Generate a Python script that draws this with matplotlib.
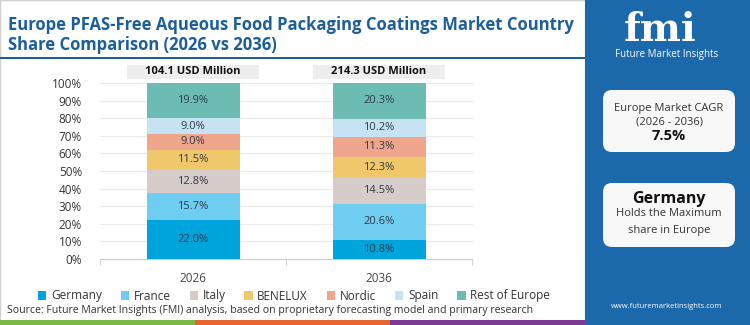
import matplotlib.pyplot as plt
from matplotlib.patches import Rectangle, FancyBboxPatch
import numpy as np

plt.rcParams['font.family'] = ['Open Sans', 'DejaVu Sans']

# === DATA ===
years = ['2026', '2036']
market_size = ['104.1 USD Million', '214.3 USD Million']
countries = ['Germany', 'France', 'Italy', 'BENELUX', 'Nordic', 'Spain', 'Rest of Europe']
share_2026 = [22.0, 15.7, 12.8, 11.5, 9.0, 9.0, 19.9]
share_2036 = [10.8, 20.6, 14.5, 12.3, 11.3, 10.2, 20.3]
colors = ['#00a4dc', '#6fcdf2', '#d6ccc9', '#efc86c', '#f0a58d', '#c6e3f3', '#6dbcb4']
cagr = '7.5%'
top_country = 'Germany'

W, H = 750, 325
panel_blue = '#1b68ab'
title_blue = '#1c5f98'


def fx(x):
    return x / W


def fy(y):
    return 1 - y / H


fig = plt.figure(figsize=(7.5, 3.25), dpi=100)
fig.patch.set_facecolor('white')

# === FRAME / DECOR ===
fig.add_artist(Rectangle((fx(0), fy(H)), fx(585), 1, transform=fig.transFigure,
                         facecolor='none', edgecolor='#d0d0d0', lw=1))
fig.add_artist(Rectangle((fx(0), fy(59)), fx(585), 2 / H, transform=fig.transFigure,
                         facecolor=title_blue, edgecolor='none'))
fig.add_artist(Rectangle((fx(585), 0), 1 - fx(585), 1, transform=fig.transFigure,
                         facecolor=panel_blue, edgecolor='none'))
for x0, c in [(0, '#7bb84a'), (195, '#e5642f'), (390, '#7d3a95')]:
    fig.add_artist(Rectangle((fx(x0), 0), fx(195), 5 / H, transform=fig.transFigure,
                             facecolor=c, edgecolor='none'))

fig.text(fx(8), fy(25), 'Europe PFAS-Free Aqueous Food Packaging Coatings Market Country',
         fontsize=12.0, fontweight='bold', color=title_blue, va='center', ha='left')
fig.text(fx(8), fy(45), 'Share Comparison (2026 vs 2036)',
         fontsize=12.0, fontweight='bold', color=title_blue, va='center', ha='left')

# === STACKED BARS ===
ax = fig.add_axes([fx(100), fy(259), fx(372), 176 / H])
x = np.arange(len(years))
data = np.array([share_2026, share_2036])
bottoms = np.zeros(len(years))
for i, name in enumerate(countries):
    vals = data[:, i]
    ax.bar(x, vals, bottom=bottoms, width=0.5, color=colors[i], label=name, zorder=3)
    for xi, v, b in zip(x, vals, bottoms):
        ax.text(xi, b + v / 2, f'{v:.1f}%', ha='center', va='center',
                fontsize=8, color='#2e3a46', zorder=4)
    bottoms += vals

for xi, lbl in zip(x, market_size):
    ax.add_patch(Rectangle((xi - 0.355, 102.3), 0.71, 8, facecolor='#eeeeee',
                           edgecolor='none', clip_on=False))
    ax.text(xi, 106.3, lbl, ha='center', va='center', fontsize=8,
            fontweight='bold', color='#111111')

ax.set_xlim(-0.5, 1.5)
ax.set_ylim(0, 100)
ax.set_yticks(np.arange(0, 101, 10))
ax.set_yticklabels([f'{t}%' for t in range(0, 101, 10)])
ax.grid(axis='y', color='#ebebeb', lw=0.8, zorder=0, clip_on=False)
ax.set_xticks(x)
ax.set_xticklabels(years)
ax.set_xticks([-0.5, 0.5, 1.5], minor=True)
ax.tick_params(axis='x', which='major', length=0, pad=9, labelsize=8.5, labelcolor='#444444')
ax.tick_params(axis='x', which='minor', length=4, color='#cccccc')
ax.tick_params(axis='y', length=0, pad=13, labelsize=8.5, labelcolor='#333333')
for s in ['top', 'right', 'left']:
    ax.spines[s].set_visible(False)
ax.spines['bottom'].set_color('#cccccc')

fig.legend(loc='center', bbox_to_anchor=(fx(294), fy(296)), ncol=7, frameon=False,
           fontsize=8.5, handlelength=0.7, handleheight=0.7, handletextpad=0.4,
           columnspacing=1.6, labelcolor='#333333')

fig.text(fx(7), fy(311), 'Source: Future Market Insights (FMI) analysis, based on proprietary '
         'forecasting model and primary research', fontsize=7.6, color='#333333',
         va='center', ha='left')

# === SIDE PANEL ===
fig.text(fx(660), fy(41), 'fmi', fontsize=28, fontweight='bold', color='white',
         ha='center', va='baseline', family='DejaVu Serif')
for yy in range(12, 42, 4):
    fig.add_artist(Rectangle((fx(625), fy(yy)), fx(72), 1.2 / H, transform=fig.transFigure,
                             facecolor=panel_blue, edgecolor='none'))
fig.text(fx(667), fy(54), 'Future Market Insights', fontsize=7, color='white',
         ha='center', va='center')

for y0, y1 in [(90, 152), (183, 247)]:
    fig.add_artist(FancyBboxPatch((fx(603), fy(y1)), fx(132), (y1 - y0) / H,
                                  boxstyle='round,pad=0,rounding_size=0.012',
                                  transform=fig.transFigure, facecolor='#f8f8f8',
                                  edgecolor='none', mutation_aspect=W / H))

fig.text(fx(669), fy(108), 'Europe Market CAGR', fontsize=8, color='#333333',
         ha='center', va='center')
fig.text(fx(669), fy(122), '(2026 - 2036)', fontsize=8, color='#333333',
         ha='center', va='center')
fig.text(fx(669), fy(136), cagr, fontsize=10.5, fontweight='bold', color='#111111',
         ha='center', va='center')
fig.text(fx(669), fy(199), top_country, fontsize=11.5, fontweight='bold', color='#111111',
         ha='center', va='center')
fig.text(fx(669), fy(214), 'Holds the Maximum', fontsize=8, color='#333333',
         ha='center', va='center')
fig.text(fx(669), fy(230), 'share in Europe', fontsize=8, color='#333333',
         ha='center', va='center')
fig.text(fx(667), fy(307), 'www.futuremarketinsights.com', fontsize=5.5, color='white',
         ha='center', va='center')

fig.savefig('out.png', dpi=100, facecolor='white')
